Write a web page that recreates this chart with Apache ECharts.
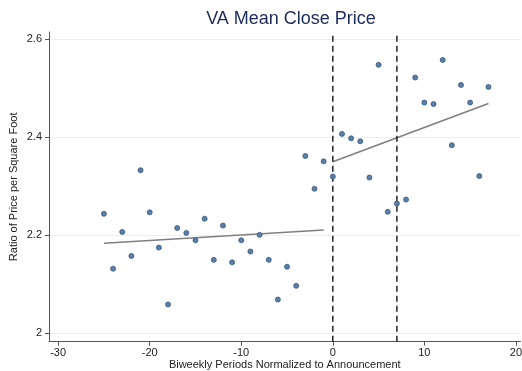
<!DOCTYPE html>
<html>
<head>
<meta charset="utf-8">
<script src="https://cdn.jsdelivr.net/npm/echarts@6/dist/echarts.min.js"></script>
<style>html,body{margin:0;padding:0;background:#fff;}#c{width:522px;height:371px;}</style>
</head>
<body>
<div id="c"></div>
<script>
var periods = [-25,-24,-23,-22,-21,-20,-19,-18,-17,-16,-15,-14,-13,-12,-11,-10,-9,-8,-7,-6,-5,-4,-3,-2,-1,0,1,2,3,4,5,6,7,8,9,10,11,12,13,14,15,16,17];
var ratios = [2.244,2.132,2.207,2.158,2.333,2.247,2.175,2.059,2.215,2.205,2.190,2.234,2.150,2.220,2.145,2.190,2.167,2.201,2.150,2.069,2.136,2.097,2.362,2.295,2.351,2.320,2.407,2.398,2.392,2.318,2.548,2.248,2.265,2.273,2.522,2.471,2.468,2.558,2.384,2.507,2.471,2.321,2.503];
var preFitX = [-25, -1];
var preFitY = [2.184, 2.211];
var postFitX = [0, 17];
var postFitY = [2.350, 2.469];
var eventLines = [0, 7];
var xTicks = [-30,-20,-10,0,10,20];
var yTicks = [2,2.2,2.4,2.6];
var yMin = 1.983, yMax = 2.615;

var pts = periods.map(function(p,i){return [p, ratios[i]];});
function pairs(xs, ys){return xs.map(function(x,i){return [x, ys[i]];});}

var series = [
  {type:'line', data:pairs(preFitX,preFitY), symbol:'none', lineStyle:{color:'#7f7f7f', width:1.6}, silent:true, z:2},
  {type:'line', data:pairs(postFitX,postFitY), symbol:'none', lineStyle:{color:'#7f7f7f', width:1.6}, silent:true, z:2}
];
eventLines.forEach(function(v){
  series.push({type:'line', data:[[v,yMin],[v,yMax]], symbol:'none', lineStyle:{color:'#111', width:1.4, type:[6,4]}, silent:true, z:3});
});
series.push({type:'scatter', data:pts, symbolSize:5, itemStyle:{color:'#5b7fa7', borderColor:'#36587f', borderWidth:0.8, opacity:1}, z:5});

var chart = echarts.init(document.getElementById('c'), null, {renderer:'canvas'});
chart.setOption({
  animation:false,
  backgroundColor:'#fff',
  title:{text:'VA Mean Close Price', left:286, top:5, textAlign:'center',
    textStyle:{fontFamily:'Liberation Sans, Arial, sans-serif', fontSize:18, fontWeight:'normal', color:'#1c2c5a'}},
  grid:{left:49, right:1.5, top:32, bottom:29.3, containLabel:false, outerBoundsMode:'none'},
  xAxis:{type:'value', min:-31, max:20.5,
    name:'Biweekly Periods Normalized to Announcement', nameLocation:'middle', nameGap:18, nameMoveOverlap:false,
    nameTextStyle:{fontFamily:'Liberation Sans, Arial, sans-serif', fontSize:11, color:'#222'},
    axisLine:{show:true, onZero:false, lineStyle:{color:'#555', width:1}},
    axisTick:{show:true, length:4, customValues:xTicks, lineStyle:{color:'#555'}},
    axisLabel:{customValues:xTicks, margin:6, fontFamily:'Liberation Sans, Arial, sans-serif', fontSize:11, color:'#222'},
    splitLine:{show:false}},
  yAxis:{type:'value', min:yMin, max:yMax,
    name:'Ratio of Price per Square Foot', nameLocation:'middle', nameGap:29.5, nameRotate:90, nameMoveOverlap:false,
    nameTextStyle:{fontFamily:'Liberation Sans, Arial, sans-serif', fontSize:11, color:'#222'},
    axisLine:{show:true, onZero:false, lineStyle:{color:'#555', width:1}},
    axisTick:{show:true, length:4, customValues:yTicks, lineStyle:{color:'#555'}},
    axisLabel:{customValues:yTicks, margin:7, fontFamily:'Liberation Sans, Arial, sans-serif', fontSize:11, color:'#222',
      formatter:function(v){return String(Math.round(v*10)/10);}},
    splitLine:{show:true, lineStyle:{color:'#eaf0f2', width:1}}},
  series:series
});
</script>
</body>
</html>
